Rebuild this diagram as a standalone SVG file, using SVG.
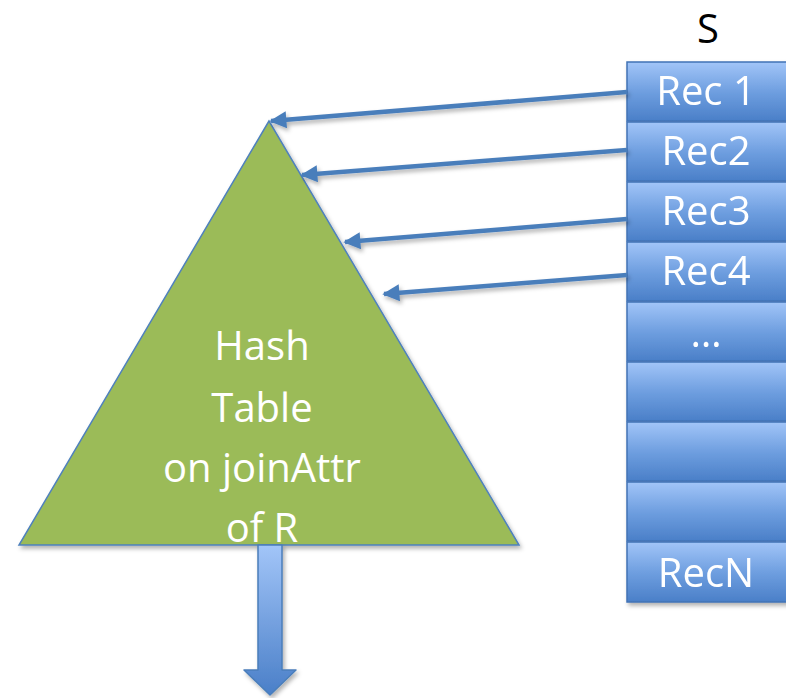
<svg xmlns="http://www.w3.org/2000/svg" width="786" height="698" viewBox="0 0 786 698">
<style>
.t{font-family:"Open Sans","Liberation Sans",sans-serif;font-size:40px;fill:#fff;text-anchor:middle}
.s{font-family:"Open Sans","Liberation Sans",sans-serif;font-size:40px;fill:#000;text-anchor:middle}
.rec{fill:url(#bg);stroke:#4273b5;stroke-width:1.5}
.con{stroke:#4a7ebb;stroke-width:4.5;fill:none;marker-end:url(#ah)}
</style>
<defs>
<linearGradient id="bg" x1="0" y1="0" x2="0" y2="1">
<stop offset="0" stop-color="#a2c5f8"/>
<stop offset="0.5" stop-color="#6f9fe0"/>
<stop offset="1" stop-color="#4a7fc8"/>
</linearGradient>
<linearGradient id="ag" x1="0" y1="0" x2="0" y2="1">
<stop offset="0" stop-color="#a2c5f8"/>
<stop offset="1" stop-color="#4a7fc8"/>
</linearGradient>
<filter id="sh" x="-20%" y="-20%" width="140%" height="140%">
<feDropShadow dx="2" dy="3" stdDeviation="2" flood-color="#000" flood-opacity="0.3"/>
</filter>
<marker id="ah" viewBox="0 0 10 10" refX="9" refY="5" markerWidth="4.4" markerHeight="3.8" markerUnits="strokeWidth" orient="auto">
<path d="M0,0 L10,5 L0,10 z" fill="#4a7ebb"/>
</marker>
</defs>
<text class="s" x="708" y="43">S</text>
<g id="table" filter="url(#sh)">
<polygon points="269,121 19,545 519,545" fill="#9bbb59" stroke="#4f81bd" stroke-width="1.5"/>
</g>
<g id="table-label">
<text class="t" x="262" y="360">Hash</text>
<text class="t" x="262" y="422">Table</text>
<text class="t" x="262" y="482">on joinAttr</text>
<text class="t" x="262" y="542">of R</text>
</g>
<g id="records" filter="url(#sh)">
<g id="rec1"><rect class="rec" x="627" y="62" width="162" height="59"/><text class="t" x="706" y="105">Rec 1</text></g>
<g id="rec2"><rect class="rec" x="627" y="122" width="162" height="59"/><text class="t" x="706" y="165">Rec2</text></g>
<g id="rec3"><rect class="rec" x="627" y="182" width="162" height="59"/><text class="t" x="706" y="225">Rec3</text></g>
<g id="rec4"><rect class="rec" x="627" y="242" width="162" height="59"/><text class="t" x="706" y="285">Rec4</text></g>
<g id="rec5"><rect class="rec" x="627" y="302" width="162" height="59"/><text class="t" x="706" y="347">…</text></g>
<g id="rec6"><rect class="rec" x="627" y="362" width="162" height="59"/></g>
<g id="rec7"><rect class="rec" x="627" y="422" width="162" height="59"/></g>
<g id="rec8"><rect class="rec" x="627" y="482" width="162" height="59"/></g>
<g id="recN"><rect class="rec" x="627" y="542" width="162" height="60"/><text class="t" x="706" y="587">RecN</text></g>
</g>
<g id="connectors" filter="url(#sh)">
<line class="con" x1="627" y1="92" x2="271" y2="121"/>
<line class="con" x1="627" y1="150" x2="302" y2="175"/>
<line class="con" x1="627" y1="219" x2="345" y2="242"/>
<line class="con" x1="627" y1="275" x2="384" y2="294"/>
</g>
<g id="output-arrow" filter="url(#sh)">
<path d="M258,545 L282,545 L282,670 L296,670 L270,695 L244,670 L258,670 Z" fill="url(#ag)" stroke="#4a7ebb" stroke-width="1.5" stroke-linejoin="round"/>
</g>
</svg>
